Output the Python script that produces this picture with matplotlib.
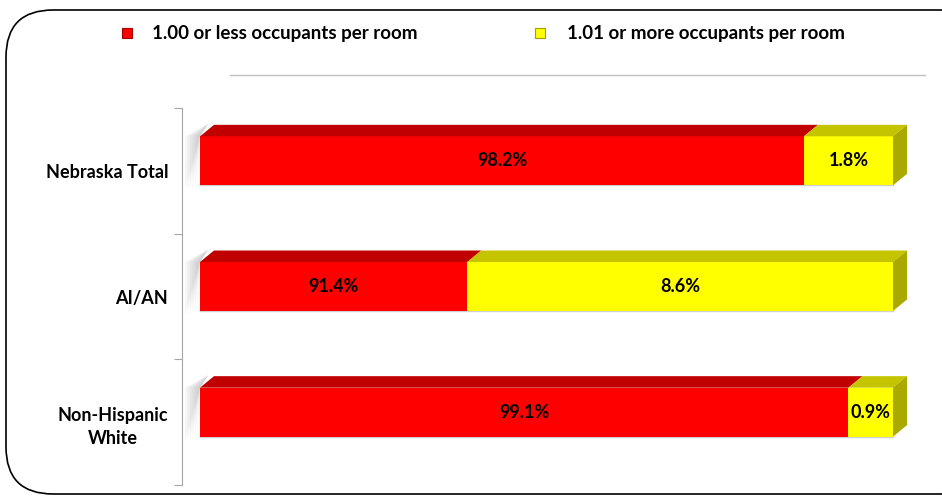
import matplotlib
matplotlib.use("Agg")
import matplotlib.pyplot as plt
from matplotlib.patches import Polygon, Rectangle, FancyBboxPatch
from matplotlib.lines import Line2D

categories = ["Nebraska Total", "AI/AN", "Non-Hispanic\nWhite"]
less_equal_1 = [98.2, 91.4, 99.1]
more_than_1 = [1.8, 8.6, 0.9]
series_names = ["1.00 or less occupants per room", "1.01 or more occupants per room"]

XMIN, XMAX = 86, 100
W, H = 942, 498
plt.rcParams['font.family'] = ['Lato', 'DejaVu Sans']

fig = plt.figure(figsize=(W / 100, H / 100), dpi=100)
fig.patch.set_facecolor('white')

# rounded border
border = FancyBboxPatch((6 / W, 4 / H), (W + 40) / W, (H - 14) / H,
                        boxstyle="round,pad=0,rounding_size=0.05",
                        transform=fig.transFigure, fill=False, ec='black', lw=1.2,
                        mutation_aspect=W / H, clip_on=False)
fig.patches.append(border)

ax = fig.add_axes([200 / W, 1 - 485 / H, 693 / W, 377 / H])
ax.set_xlim(XMIN, XMAX)
ax.set_ylim(len(categories) - 0.5, -0.5)
for s in ['top', 'right', 'bottom']:
    ax.spines[s].set_visible(False)
ax.spines['left'].set_position(('outward', 13))
ax.spines['left'].set_color('#A6A6A6')
ax.set_xticks([])
ax.set_yticks([i - 0.5 for i in range(len(categories) + 1)])
ax.set_yticklabels([])
ax.tick_params(axis='y', which='major', direction='out', length=6, color='#A6A6A6')
ax.set_yticks(range(len(categories)), minor=True)
ax.set_yticklabels(categories, minor=True, fontsize=13, fontweight='bold',
                   multialignment='center', linespacing=1.45)
ax.tick_params(axis='y', which='minor', length=0, pad=10)

px_x = 693 / (XMAX - XMIN)
px_y = 377 / len(categories)
dx = 14 / px_x
dy = 11.5 / px_y
h = 49 / px_y
shift = 10 / px_y

front_cols = ['#FF0000', '#FFFF00']
top_cols = ['#C00000', '#C4C400']
side_col = '#A9A900'

for i, cat in enumerate(categories):
    yc = i - shift
    yt = yc - h / 2
    yb = yc + h / 2
    segs = [(0, less_equal_1[i]), (less_equal_1[i], less_equal_1[i] + more_than_1[i])]
    # soft shadow on the left
    for k in range(6):
        ax.add_patch(Polygon([(XMIN - (k + 1) * 0.05, yb + 0.03), (XMIN - (k + 1) * 0.05, yt),
                              (XMIN + dx * 0.6, yt - dy * 1.1), (XMIN, yt)],
                             closed=True, fc='#808080', ec='none', alpha=0.07, clip_on=False))
    for j, (a, b) in enumerate(segs):
        a_vis = max(a, XMIN)
        ax.add_patch(Rectangle((a_vis, yt), b - a_vis, h, fc=front_cols[j], ec='none',
                               clip_on=False, zorder=3))
        ax.add_patch(Polygon([(a_vis, yt), (b, yt), (b + dx, yt - dy), (a_vis + dx, yt - dy)],
                             closed=True, fc=top_cols[j], ec='none', clip_on=False, zorder=3))
        val = less_equal_1[i] if j == 0 else more_than_1[i]
        ax.text((a_vis + b) / 2, yc, f"{val:.1f}%", ha='center', va='center',
                fontsize=13, fontweight='bold', color='black', zorder=5)
    b = segs[-1][1]
    ax.add_patch(Polygon([(b, yt), (b + dx, yt - dy), (b + dx, yb - dy), (b, yb)],
                         closed=True, fc=side_col, ec='none', clip_on=False, zorder=3))
    ax.plot([XMIN, b], [yb, yb], color='#B0B0B0', lw=1, alpha=0.6, clip_on=False, zorder=2)

# top line
fig.add_artist(Line2D([230 / W, 925 / W], [1 - 75 / H, 1 - 75 / H], color='#BFBFBF', lw=1))

# legend
leg_y = 1 - 33 / H
for name, x_m, x_t, fc, ec in [(series_names[0], 127, 152, '#FF0000', '#A00000'),
                              (series_names[1], 540, 567, '#FFFF00', '#A0A000')]:
    fig.patches.append(Rectangle(((x_m - 5) / W, leg_y - 5 / H), 10 / W, 10 / H,
                                 transform=fig.transFigure, fc=fc, ec=ec, lw=0.8))
    fig.text(x_t / W, leg_y, name, ha='left', va='center', fontsize=13.5, fontweight='bold')

fig.savefig("out.png", dpi=100)
